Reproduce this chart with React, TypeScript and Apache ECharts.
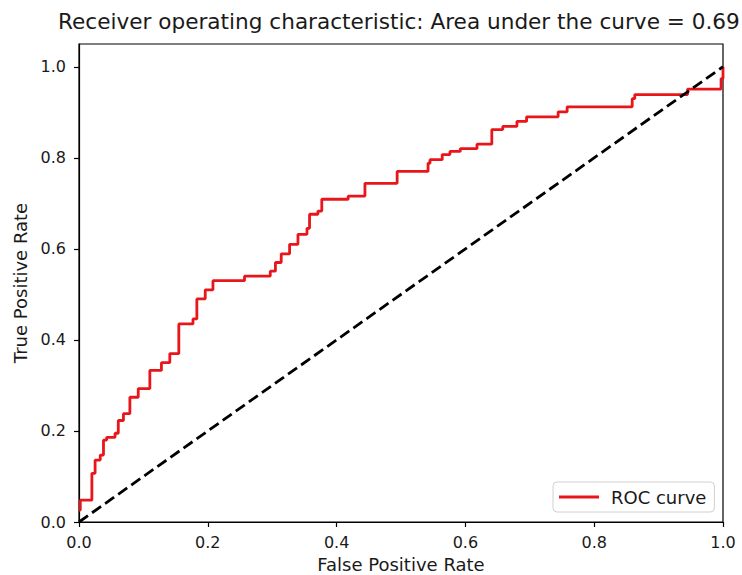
import React, { useEffect, useRef } from "react";
import * as echarts from "echarts";

const fpr = [0, 0.002, 0.02, 0.025, 0.033, 0.038, 0.043, 0.056, 0.061, 0.069, 0.079, 0.092, 0.11, 0.128, 0.141, 0.155, 0.177, 0.183, 0.196, 0.208, 0.257, 0.297, 0.305, 0.314, 0.327, 0.34, 0.354, 0.358, 0.371, 0.377, 0.418, 0.444, 0.494, 0.542, 0.545, 0.564, 0.576, 0.592, 0.618, 0.641, 0.658, 0.68, 0.695, 0.744, 0.758, 0.859, 0.863, 0.945, 0.997, 1.0];
const tpr = [0.026, 0.048, 0.107, 0.136, 0.147, 0.18, 0.186, 0.195, 0.223, 0.238, 0.274, 0.293, 0.333, 0.35, 0.37, 0.435, 0.446, 0.49, 0.51, 0.53, 0.54, 0.551, 0.57, 0.589, 0.61, 0.632, 0.645, 0.676, 0.683, 0.709, 0.716, 0.744, 0.77, 0.788, 0.796, 0.807, 0.814, 0.82, 0.83, 0.862, 0.869, 0.88, 0.89, 0.901, 0.912, 0.93, 0.939, 0.951, 0.974, 1.0];
const chanceX = [0, 1];
const chanceY = [0, 1];
const tickValues = [0, 0.2, 0.4, 0.6, 0.8, 1.0];
const titleText = "Receiver operating characteristic: Area under the curve = 0.69";

const FONT = "DejaVu Sans";
const TXT = "#1a1a1a";

export default function App() {
  const ref = useRef<HTMLDivElement>(null);
  useEffect(() => {
    document.body.style.margin = "0";
    const chart = echarts.init(ref.current!, null, { renderer: "svg" });
    chart.setOption({
      animation: false,
      backgroundColor: "#fff",
      title: {
        text: titleText,
        left: 58,
        top: 10,
        padding: 0,
        textStyle: { fontFamily: FONT, fontSize: 21.6, fontWeight: "normal", color: TXT },
      },
      legend: {
        left: 553,
        top: 482,
        padding: [6, 8, 6, 6],
        backgroundColor: "#fff",
        borderColor: "#d0d0d0",
        borderWidth: 1,
        borderRadius: 4,
        icon: "rect",
        itemWidth: 40,
        itemHeight: 3,
        data: ["ROC curve"],
        textStyle: { fontFamily: FONT, fontSize: 18, color: TXT, padding: [0, 0, 0, 7] },
      },
      grid: {
        left: 79,
        right: 19,
        top: 44,
        bottom: 53,
        outerBoundsMode: "none",
        containLabel: false,
        show: true,
        borderColor: "#000",
        borderWidth: 1.2,
        backgroundColor: "#fff",
      },
      xAxis: {
        type: "value",
        min: 0,
        max: 1,
        interval: 0.2,
        name: "False Positive Rate",
        nameLocation: "middle",
        nameGap: 33,
        nameTextStyle: { fontFamily: FONT, fontSize: 18, color: TXT, lineHeight: 18 },
        axisLine: { show: true, lineStyle: { color: "#000", width: 1.2 } },
        axisTick: { show: true, inside: false, length: 5, lineStyle: { color: "#000", width: 1.2 } },
        axisLabel: {
          fontFamily: FONT,
          fontSize: 16,
          color: TXT,
          margin: 12,
          formatter: (v: number) => v.toFixed(1),
        },
        splitLine: { show: false },
      },
      yAxis: {
        type: "value",
        min: 0,
        max: 1.05,
        interval: 0.2,
        name: "True Positive Rate",
        nameLocation: "middle",
        nameGap: 48,
        nameTextStyle: { fontFamily: FONT, fontSize: 18, color: TXT },
        axisLine: { show: true, lineStyle: { color: "#000", width: 1.2 } },
        axisTick: {
          show: true,
          inside: false,
          length: 5,
          customValues: tickValues,
          lineStyle: { color: "#000", width: 1.2 },
        },
        axisLabel: {
          fontFamily: FONT,
          fontSize: 16,
          color: TXT,
          margin: 13,
          customValues: tickValues,
          formatter: (v: number) => v.toFixed(1),
        },
        splitLine: { show: false },
      },
      series: [
        {
          name: "ROC curve",
          type: "line",
          step: "end",
          symbol: "none",
          data: fpr.map((x, i) => [x, tpr[i]]),
          lineStyle: { color: "#e8161b", width: 2.8 },
          itemStyle: { color: "#e8161b" },
        },
        {
          name: "chance",
          type: "line",
          symbol: "none",
          data: chanceX.map((x, i) => [x, chanceY[i]]),
          lineStyle: { color: "#000", width: 2.8, type: [11, 5] },
          itemStyle: { color: "#000" },
        },
      ],
    });
    return () => chart.dispose();
  }, []);
  return <div ref={ref} style={{ width: 742, height: 575 }} />;
}
